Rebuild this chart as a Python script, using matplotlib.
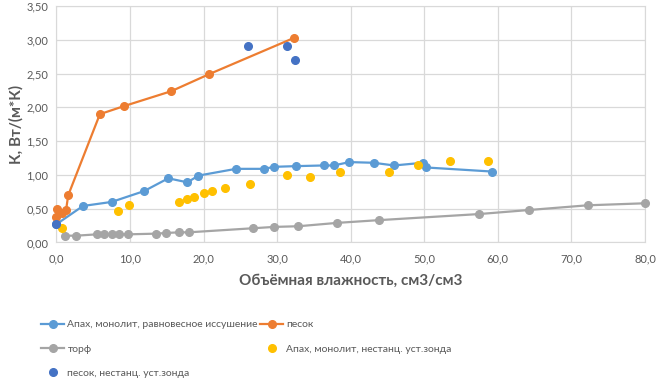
import matplotlib.pyplot as plt
from matplotlib.ticker import FuncFormatter

plt.rcParams['font.family'] = ['Lato', 'DejaVu Sans']

# Апах, монолит, равновесное иссушение
apah_x = [0.0, 3.6, 7.5, 11.9, 15.2, 17.8, 19.3, 24.4, 28.2, 29.6, 32.5, 36.3, 37.7, 39.8, 43.1, 45.9, 49.8, 50.3, 59.2]
apah_y = [0.27, 0.54, 0.60, 0.76, 0.95, 0.89, 0.99, 1.09, 1.09, 1.12, 1.13, 1.14, 1.14, 1.19, 1.18, 1.14, 1.18, 1.11, 1.05]

# песок
sand_x = [0.0, 0.1, 0.7, 1.3, 1.6, 5.9, 9.2, 15.6, 20.7, 32.3]
sand_y = [0.37, 0.50, 0.43, 0.48, 0.70, 1.90, 2.02, 2.24, 2.49, 3.03]

# торф
peat_x = [1.2, 2.7, 5.5, 6.5, 7.5, 8.5, 9.7, 13.5, 14.9, 16.7, 18.0, 26.7, 29.6, 32.9, 38.2, 43.8, 57.4, 64.2, 72.2, 80.0]
peat_y = [0.10, 0.10, 0.12, 0.12, 0.12, 0.12, 0.12, 0.13, 0.14, 0.15, 0.15, 0.21, 0.23, 0.24, 0.29, 0.33, 0.42, 0.48, 0.55, 0.58]

# Апах, монолит, нестанц. уст.зонда
apah2_x = [0.7, 8.4, 9.9, 16.6, 17.7, 18.7, 20.0, 21.1, 22.9, 26.3, 31.3, 34.5, 38.6, 45.2, 49.2, 53.5, 58.7]
apah2_y = [0.22, 0.47, 0.56, 0.60, 0.64, 0.68, 0.73, 0.76, 0.81, 0.87, 1.00, 0.97, 1.05, 1.05, 1.14, 1.20, 1.20]

# песок, нестанц. уст.зонда
sand2_x = [0.0, 26.1, 31.3, 32.4]
sand2_y = [0.27, 2.91, 2.91, 2.70]

fig = plt.figure(figsize=(6.59, 3.83), dpi=100)
ax = fig.add_axes([0.0857, 0.367, 0.893, 0.617])

l1, = ax.plot(apah_x, apah_y, '-o', color='#5B9BD5', lw=1.6, ms=5.5, zorder=3, clip_on=False,
              label='Апах, монолит, равновесное иссушение')
l2, = ax.plot(sand_x, sand_y, '-o', color='#ED7D31', lw=1.6, ms=5.5, zorder=3, clip_on=False,
              label='песок')
l3, = ax.plot(peat_x, peat_y, '-o', color='#A5A5A5', lw=1.6, ms=5.5, zorder=3, clip_on=False,
              label='торф')
l4, = ax.plot(apah2_x, apah2_y, 'o', color='#FFC000', ms=5.5, zorder=3, clip_on=False,
              label='Апах, монолит, нестанц. уст.зонда')
l5, = ax.plot(sand2_x, sand2_y, 'o', color='#4472C4', ms=5.5, zorder=4, clip_on=False,
              label='песок, нестанц. уст.зонда')

ax.set_xlim(0, 80)
ax.set_ylim(0, 3.5)
ax.set_xticks(range(0, 81, 10))
ax.set_yticks([i * 0.5 for i in range(8)])
ax.xaxis.set_major_formatter(FuncFormatter(lambda v, p: f'{v:.1f}'.replace('.', ',')))
ax.yaxis.set_major_formatter(FuncFormatter(lambda v, p: f'{v:.2f}'.replace('.', ',')))
ax.grid(True, color='#D9D9D9', lw=0.9)
ax.set_axisbelow(True)
for s in ax.spines.values():
    s.set_color('#D9D9D9')
ax.tick_params(length=0, labelsize=8, colors='#595959')
ax.tick_params(axis='x', pad=8)
ax.tick_params(axis='y', pad=6)

ax.set_xlabel('Объёмная влажность, см3/см3', fontsize=11, fontweight='bold', color='#595959', labelpad=7)
ax.set_ylabel('К, Вт/(м*К)', fontsize=11, fontweight='bold', color='#595959', labelpad=2)

fig.legend(handles=[l1, l3, l5, l2, l4], loc='upper left', bbox_to_anchor=(0.055, 0.178),
           ncol=2, frameon=False, fontsize=7.5, handlelength=2.2, handletextpad=0.3,
           columnspacing=0.2, labelspacing=1.45, borderpad=0, labelcolor='#595959')

fig.savefig('out.png', dpi=100)
